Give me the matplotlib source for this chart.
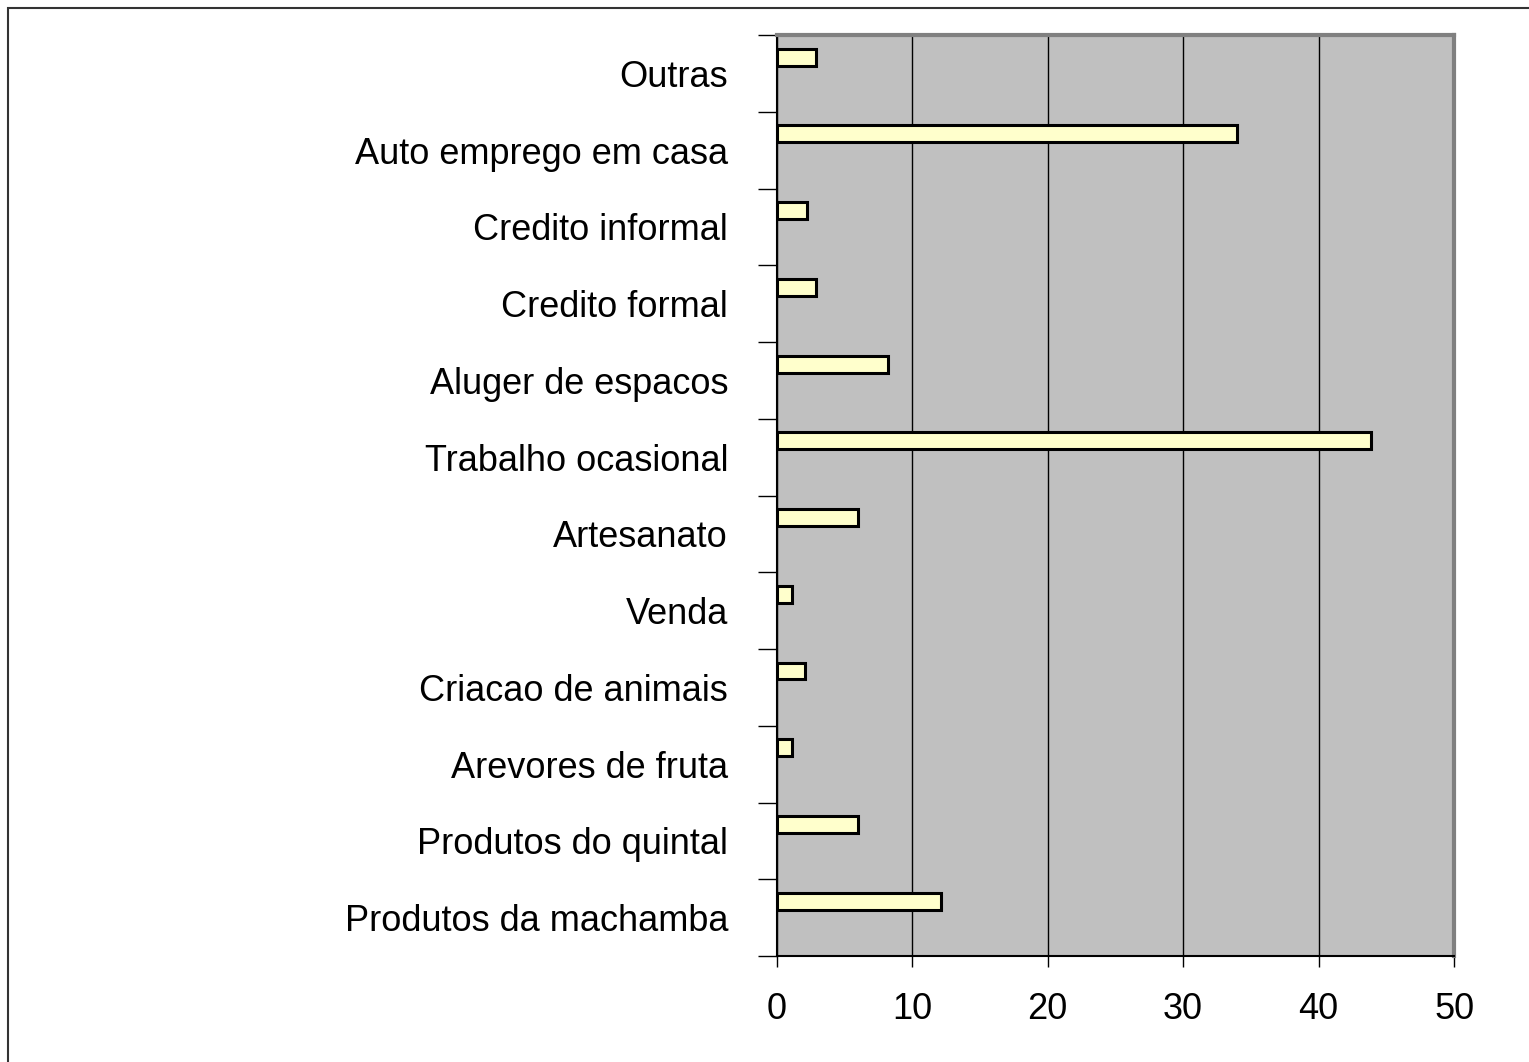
import matplotlib.pyplot as plt
import numpy as np
from matplotlib.patches import Rectangle

# categorias de baixo para cima
categorias = ["Produtos da machamba", "Produtos do quintal", "Arevores de fruta",
              "Criacao de animais", "Venda", "Artesanato", "Trabalho ocasional",
              "Aluger de espacos", "Credito formal", "Credito informal",
              "Auto emprego em casa", "Outras"]
valores = [12.1, 6.0, 1.1, 2.1, 1.1, 6.0, 43.9, 8.2, 2.9, 2.2, 34.0, 2.9]
xticks = [0, 10, 20, 30, 40, 50]

plt.rcParams['font.family'] = ['Liberation Sans', 'DejaVu Sans']

fig = plt.figure(figsize=(15.29, 10.62), dpi=100)
ax = fig.add_axes([0.508, 0.0998, 0.443, 0.8672])
ax.set_facecolor('#C0C0C0')

pos = np.arange(len(categorias))
ax.barh(pos + 0.213, valores, height=0.22, color='#FFFFCC',
        edgecolor='black', linewidth=2.2, zorder=3)

ax.set_xlim(0, 50)
ax.set_ylim(-0.5, len(categorias) - 0.5)
ax.set_xticks(xticks)
ax.set_xticklabels([str(t) for t in xticks])
ax.tick_params(axis='x', length=8, width=1, pad=18, labelsize=26)

ax.set_yticks(pos)
ax.set_yticklabels(categorias)
ax.set_yticks(np.arange(len(categorias) + 1) - 0.5, minor=True)
ax.tick_params(axis='y', which='major', length=0, pad=35, labelsize=26)
ax.tick_params(axis='y', which='minor', length=14, width=1)

ax.xaxis.grid(True, color='black', linewidth=1)
ax.set_axisbelow(True)

for s in ['top', 'right']:
    ax.spines[s].set_color('#808080')
    ax.spines[s].set_linewidth(3)
for s in ['left', 'bottom']:
    ax.spines[s].set_color('black')
    ax.spines[s].set_linewidth(1.5)

# moldura exterior
fig.add_artist(Rectangle((8 / 1529, -0.05), 1.1, 1 - 8 / 1062 + 0.05,
                         transform=fig.transFigure, fill=False,
                         edgecolor='#333333', linewidth=1.5))

fig.savefig('out.png', dpi=100)
